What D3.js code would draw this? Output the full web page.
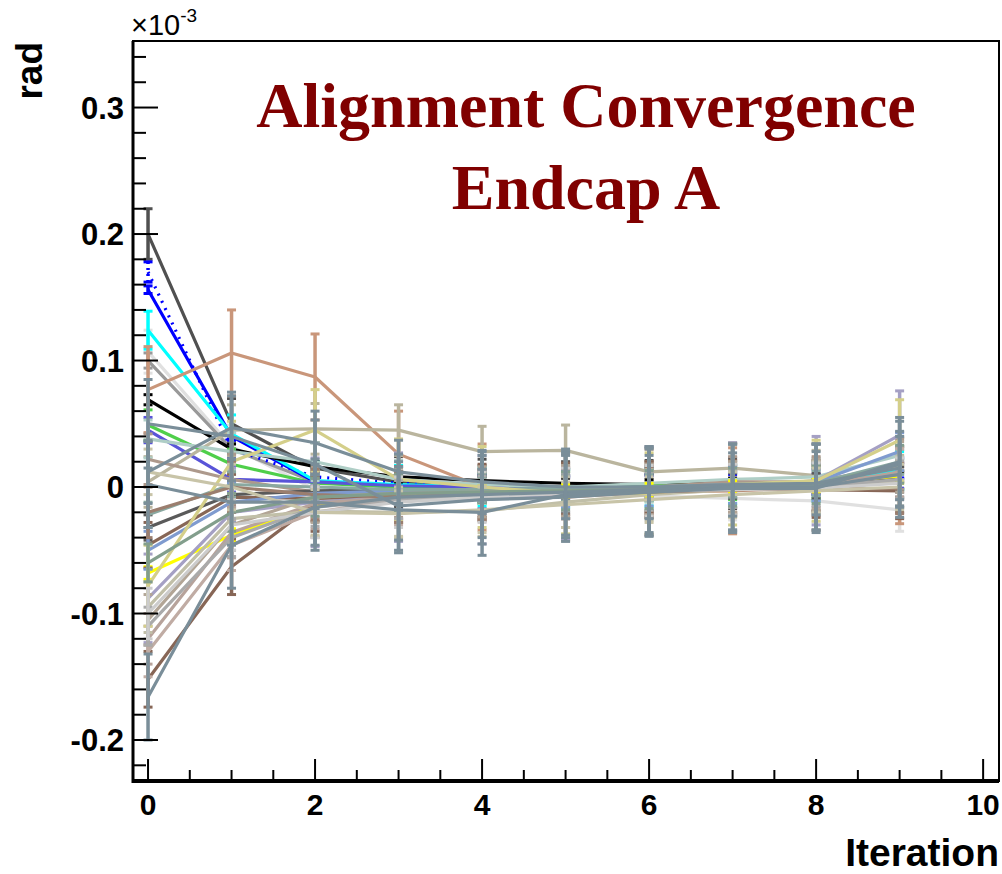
<!DOCTYPE html>
<html>
<head>
<meta charset="utf-8">
<script src="https://cdn.jsdelivr.net/npm/d3@7/dist/d3.min.js"></script>
<style>
  html, body { margin: 0; padding: 0; background: #ffffff; }
  svg { display: block; }
</style>
</head>
<body>
<svg id="chart" width="1002" height="874"></svg>
<script>
// ---------------- data (values in units of 1e-3 rad) ----------------
const iterations = [0, 1, 2, 3, 4, 5, 6, 7, 8, 9];

const xTickValues = [0, 2, 4, 6, 8, 10];
const xTickLabels = ["0", "2", "4", "6", "8", "10"];
const yTickValues = [-0.2, -0.1, 0, 0.1, 0.2, 0.3];
const yTickLabels = ["-0.2", "-0.1", "0", "0.1", "0.2", "0.3"];

const titleLines = ["Alignment Convergence", "Endcap A"];
const xAxisTitle = "Iteration";
const yAxisTitle = "rad";

const seriesColors = [
  "#e0e0e0", "#999999", "#505050", "#0000ff", "#0000ff", "#00ffff", "#000000", "#4fcf4a",
  "#c9967a", "#5954d8", "#bab59e", "#afcec6", "#ad998c", "#ffff00", "#876656", "#876656",
  "#5a5a5a", "#7f9bcf", "#89a8a0", "#a5a0c4", "#b7a39b", "#c0aca4", "#b2a596", "#c1bfa8",
  "#d4cf8a", "#9b7e6e", "#aaaaaa", "#829e8c", "#cccccc", "#c8c4a8", "#7a8e99", "#7a8e99",
  "#7a8e99", "#7a8e99"
];
const seriesDotted = [
  false, false, false, true, false, false, false, false,
  false, false, false, false, false, false, false, false,
  false, false, false, false, false, false, false, false,
  false, false, false, false, false, false, false, false,
  false, false
];
const seriesValues = [
  [0.107, 0.032, -0.002, -0.004, -0.004, -0.005, -0.007, -0.009, -0.011, -0.018],
  [0.100, 0.030, 0.004, 0.000, -0.002, -0.003, -0.002, 0.000, 0.000, 0.005],
  [0.200, 0.050, 0.015, 0.004, 0.002, 0.000, 0.001, 0.003, 0.001, 0.012],
  [0.170, 0.030, 0.008, 0.003, 0.001, 0.000, 0.001, 0.002, 0.002, 0.015],
  [0.156, 0.040, 0.004, 0.000, -0.002, -0.002, 0.000, 0.002, 0.004, 0.010],
  [0.124, 0.042, 0.005, 0.002, 0.000, -0.001, 0.000, 0.002, 0.004, 0.013],
  [0.069, 0.030, 0.016, 0.008, 0.005, 0.003, 0.002, 0.003, 0.002, 0.008],
  [0.049, 0.018, 0.003, 0.000, -0.001, 0.000, 0.001, 0.002, 0.003, 0.010],
  [0.077, 0.106, 0.087, 0.026, 0.000, -0.008, -0.004, -0.003, 0.000, 0.005],
  [0.045, 0.006, 0.004, 0.001, 0.000, -0.001, 0.000, 0.003, 0.004, 0.009],
  [0.004, 0.045, 0.046, 0.045, 0.028, 0.029, 0.012, 0.015, 0.009, 0.005],
  [0.038, 0.028, 0.020, 0.006, 0.002, 0.000, 0.003, 0.006, 0.008, 0.025],
  [0.022, 0.006, -0.004, -0.004, -0.003, -0.002, 0.000, 0.004, 0.004, 0.018],
  [-0.068, -0.038, -0.015, -0.006, -0.004, -0.003, -0.002, 0.000, 0.001, 0.008],
  [-0.152, -0.063, -0.013, -0.006, -0.004, -0.003, -0.002, -0.001, -0.002, -0.003],
  [-0.046, -0.008, -0.009, -0.008, -0.006, -0.004, -0.003, -0.002, -0.001, -0.002],
  [-0.032, -0.006, -0.003, -0.002, -0.002, -0.001, 0.000, 0.001, 0.001, 0.006],
  [-0.050, -0.012, -0.005, -0.003, -0.002, -0.001, 0.000, 0.002, 0.004, 0.028],
  [-0.022, 0.002, 0.000, -0.002, -0.002, -0.001, 0.000, 0.002, 0.003, 0.020],
  [-0.088, -0.020, -0.012, -0.008, -0.010, -0.006, -0.003, 0.000, 0.005, 0.041],
  [-0.120, -0.036, -0.013, -0.008, -0.006, -0.004, -0.002, 0.000, 0.001, 0.012],
  [-0.130, -0.046, -0.020, -0.010, -0.007, -0.005, -0.003, -0.001, 0.000, 0.010],
  [-0.105, -0.030, -0.008, -0.005, -0.004, -0.003, -0.002, 0.000, 0.002, 0.016],
  [-0.095, -0.025, -0.019, -0.020, -0.019, -0.012, -0.006, -0.002, 0.000, 0.004],
  [-0.078, 0.020, 0.045, 0.006, 0.000, -0.005, -0.005, 0.002, 0.005, 0.037],
  [-0.020, 0.000, -0.006, -0.008, -0.006, -0.005, -0.004, -0.002, -0.002, -0.001],
  [-0.110, -0.040, -0.016, -0.010, -0.006, -0.004, -0.003, -0.001, 0.000, 0.006],
  [-0.060, -0.020, -0.008, -0.005, -0.004, -0.003, -0.002, 0.000, 0.002, 0.018],
  [-0.100, -0.030, -0.020, -0.012, -0.008, -0.005, -0.003, -0.002, -0.001, 0.003],
  [0.012, 0.000, -0.020, -0.021, -0.018, -0.014, -0.010, -0.006, -0.003, 0.000],
  [0.012, 0.047, 0.035, 0.012, 0.004, 0.000, 0.000, 0.002, 0.003, 0.015],
  [-0.166, -0.046, -0.016, -0.008, -0.006, -0.004, -0.002, 0.000, 0.000, 0.010],
  [0.002, -0.012, -0.012, -0.018, -0.020, -0.006, -0.004, 0.000, 0.000, 0.018],
  [0.050, 0.040, 0.018, -0.015, -0.010, -0.008, -0.004, -0.001, -0.001, 0.020]
];
const seriesErrors = [
  0.017, 0.006, 0.020, 0.008, 0.003, 0.015, 0.004, 0.012,
  0.034, 0.010, 0.020, 0.015, 0.020, 0.005, 0.022, 0.018,
  0.010, 0.015, 0.010, 0.035, 0.020, 0.020, 0.020, 0.020,
  0.032, 0.020, 0.015, 0.015, 0.020, 0.018, 0.025, 0.034,
  0.034, 0.035
];

// ---------------- layout ----------------
const frame = { left: 133, right: 999, top: 41, bottom: 781 };
const sans = "'Liberation Sans', Arial, Helvetica, sans-serif";

const svg = d3.select("#chart");

const x = d3.scaleLinear().domain([-0.18, 10.19]).range([frame.left, frame.right]);
const y = d3.scaleLinear().domain([-0.2324, 0.3526]).range([frame.bottom, frame.top]);

svg.append("defs").append("clipPath").attr("id", "plotclip")
  .append("rect")
  .attr("x", frame.left).attr("y", frame.top)
  .attr("width", frame.right - frame.left).attr("height", frame.bottom - frame.top);

// frame
svg.append("rect")
  .attr("x", frame.left).attr("y", frame.top)
  .attr("width", frame.right - frame.left).attr("height", frame.bottom - frame.top)
  .attr("fill", "none").attr("stroke", "#000").attr("stroke-width", 2);

// ---------------- series ----------------
const plot = svg.append("g").attr("clip-path", "url(#plotclip)");
const line = d3.line().x((d, i) => x(iterations[i])).y(d => y(d));

seriesValues.forEach((vals, s) => {
  const g = plot.append("g");
  const col = seriesColors[s];
  const err = seriesErrors[s];
  g.append("path")
    .attr("d", line(vals))
    .attr("fill", "none")
    .attr("stroke", col)
    .attr("stroke-width", 3.2)
    .attr("stroke-linejoin", "round")
    .attr("stroke-dasharray", seriesDotted[s] ? "2,6" : null);
  vals.forEach((v, i) => {
    const cx = x(iterations[i]);
    g.append("line")
      .attr("x1", cx).attr("x2", cx)
      .attr("y1", y(v - err)).attr("y2", y(v + err))
      .attr("stroke", col).attr("stroke-width", 3.5)
      .attr("stroke-dasharray", seriesDotted[s] ? "2,4" : null);
    [v - err, v + err].forEach(e => {
      g.append("line")
        .attr("x1", cx - 4.5).attr("x2", cx + 4.5)
        .attr("y1", y(e)).attr("y2", y(e))
        .attr("stroke", col).attr("stroke-width", 3);
    });
  });
});

// ---------------- axes ----------------
const axisG = svg.append("g");
axisG.append("line").attr("x1", frame.left).attr("x2", frame.left)
  .attr("y1", frame.top).attr("y2", frame.bottom + 2)
  .attr("stroke", "#000").attr("stroke-width", 3);
axisG.append("line").attr("x1", frame.left - 1).attr("x2", frame.right)
  .attr("y1", frame.bottom).attr("y2", frame.bottom)
  .attr("stroke", "#000").attr("stroke-width", 4);

// x ticks (inside, upward)
const xMinor = d3.range(0, 10.01, 0.5);
xMinor.forEach(t => {
  const major = Math.abs(t / 2 - Math.round(t / 2)) < 1e-6;
  axisG.append("line")
    .attr("x1", x(t)).attr("x2", x(t))
    .attr("y1", frame.bottom).attr("y2", frame.bottom - (major ? 22 : 11))
    .attr("stroke", "#000").attr("stroke-width", 2);
});
xTickValues.forEach((t, i) => {
  axisG.append("text")
    .attr("x", x(t)).attr("y", 815)
    .attr("text-anchor", "middle")
    .attr("font-family", sans)
    .attr("font-weight", "bold").attr("font-size", 30)
    .text(xTickLabels[i]);
});

// y ticks (inside, rightward)
const yMinor = d3.range(-0.22, 0.3501, 0.02);
yMinor.forEach(t => {
  const r = Math.round(t * 100) / 100;
  const major = Math.abs(r * 10 - Math.round(r * 10)) < 1e-6;
  axisG.append("line")
    .attr("x1", frame.left).attr("x2", frame.left + (major ? 25 : 13))
    .attr("y1", y(r)).attr("y2", y(r))
    .attr("stroke", "#000").attr("stroke-width", 2);
});
yTickValues.forEach((t, i) => {
  axisG.append("text")
    .attr("x", 124).attr("y", y(t) + 11)
    .attr("text-anchor", "end")
    .attr("font-family", sans)
    .attr("font-weight", "bold").attr("font-size", 31)
    .text(yTickLabels[i]);
});

// exponent label
const expText = svg.append("text")
  .attr("x", 131).attr("y", 35)
  .attr("font-family", sans)
  .attr("font-size", 29);
expText.append("tspan").text("\u00d710");
expText.append("tspan").attr("dy", -13).attr("font-size", 19).text("-3");

// axis titles
svg.append("text")
  .attr("x", 999).attr("y", 866)
  .attr("text-anchor", "end")
  .attr("font-family", sans)
  .attr("font-weight", "bold").attr("font-size", 39)
  .text(xAxisTitle);

svg.append("text")
  .attr("transform", "translate(42,42) rotate(-90)")
  .attr("text-anchor", "end")
  .attr("font-family", sans)
  .attr("font-weight", "bold").attr("font-size", 37)
  .text(yAxisTitle);

// title
titleLines.forEach((t, i) => {
  svg.append("text")
    .attr("x", 586).attr("y", 127 + i * 82)
    .attr("text-anchor", "middle")
    .attr("font-family", "'Liberation Serif', 'Times New Roman', serif")
    .attr("font-weight", "bold").attr("font-size", 64)
    .attr("fill", "#800000")
    .text(t);
});
</script>
</body>
</html>
